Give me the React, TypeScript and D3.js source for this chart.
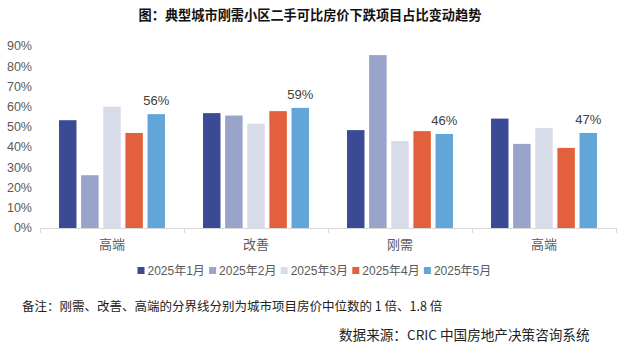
import React from "react";
import * as d3 from "d3";

const categories = ["高端", "改善", "刚需", "高端"];
const seriesNames = ["2025年1月", "2025年2月", "2025年3月", "2025年4月", "2025年5月"];
const seriesColors = ["#3a4a95", "#9aa4cb", "#d8dce8", "#e2603b", "#62a6d9"];
const jan = [0.533, 0.568, 0.484, 0.541];
const feb = [0.261, 0.556, 0.855, 0.416];
const mar = [0.600, 0.516, 0.430, 0.495];
const apr = [0.470, 0.578, 0.479, 0.396];
const may = [0.563, 0.594, 0.465, 0.470];
const series = [jan, feb, mar, apr, may];
const mayLabels = ["56%", "59%", "46%", "47%"];
const yTicks = [0, 0.1, 0.2, 0.3, 0.4, 0.5, 0.6, 0.7, 0.8, 0.9];

const W = 620;
const H = 356;
const sans = "'Liberation Sans', Arial, 'Noto Sans CJK SC', sans-serif";
const cjk = "'Noto Sans CJK SC', 'Liberation Serif', serif";

export default function App() {
  const x0 = d3.scaleBand<number>().domain(d3.range(categories.length)).range([40, 616]).paddingInner(0).paddingOuter(0);
  const x1 = d3.scaleBand<number>().domain(d3.range(seriesNames.length)).range([0, x0.bandwidth()]).paddingInner(0.21).paddingOuter(0.86);
  const y = d3.scaleLinear().domain([0, 0.9]).range([228, 46]);
  const fmt = d3.format(".0%");
  const legendStart = 137.5;
  const legendStep = 71.6;

  return (
    <svg width={W} height={H} style={{ position: "fixed", left: 0, top: 0, background: "#fff" }}>
      <rect x={0} y={0} width={W} height={H} fill="#fff" />
      <text x={310} y={20} textAnchor="middle" fontFamily={cjk} fontWeight="bold" fontSize={13.2} fill="#111">
        图：典型城市刚需小区二手可比房价下跌项目占比变动趋势
      </text>

      {yTicks.map((t) => (
        <text key={t} x={32} y={y(t)} dy="0.35em" textAnchor="end" fontFamily={sans} fontSize={12.5} fill="#595959">
          {fmt(t)}
        </text>
      ))}

      {categories.map((c, ci) => (
        <g key={ci} transform={`translate(${x0(ci)},0)`}>
          {series.map((s, si) => (
            <rect key={si} x={x1(si)} y={y(s[ci])} width={x1.bandwidth()} height={y(0) - y(s[ci])} fill={seriesColors[si]} />
          ))}
          <text
            x={(x1(4) as number) + x1.bandwidth() / 2}
            y={y(may[ci]) - 9}
            textAnchor="middle"
            fontFamily={sans}
            fontSize={13}
            fill="#404040"
          >
            {mayLabels[ci]}
          </text>
          <text x={x0.bandwidth() / 2} y={249} textAnchor="middle" fontFamily={cjk} fontSize={13} fill="#595959">
            {c}
          </text>
        </g>
      ))}

      <line x1={40} x2={616} y1={y(0) + 0.5} y2={y(0) + 0.5} stroke="#d9d9d9" strokeWidth={1} />
      {d3.range(categories.length + 1).map((i) => {
        const xx = i < categories.length ? (x0(i) as number) : 616;
        return <line key={i} x1={xx + 0.5} x2={xx + 0.5} y1={y(0)} y2={y(0) + 5} stroke="#d9d9d9" />;
      })}

      {seriesNames.map((n, i) => (
        <g key={n} transform={`translate(${legendStart + i * legendStep},270.5)`}>
          <rect x={0} y={-3.5} width={7} height={7} fill={seriesColors[i]} />
          <text x={10} y={0} dy="0.35em" fontFamily={sans} fontSize={12} fill="#595959">
            {n}
          </text>
        </g>
      ))}

      <text x={22} y={307} dy="0.35em" fontFamily={cjk} fontSize={12.5} fill="#222">
        备注：刚需、改善、高端的分界线分别为城市项目房价中位数的 1 倍、1.8 倍
      </text>
      <text x={339} y={335.5} dy="0.35em" fontFamily={cjk} fontSize={13.6} fill="#222">
        数据来源：CRIC 中国房地产决策咨询系统
      </text>
    </svg>
  );
}
